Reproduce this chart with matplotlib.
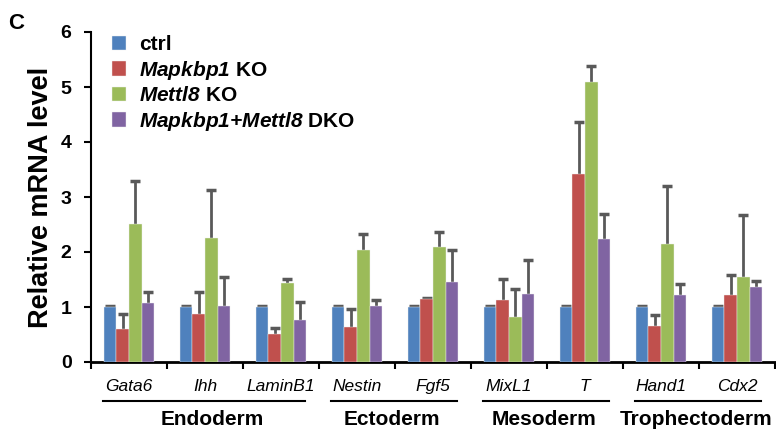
import numpy as np
import matplotlib
matplotlib.use('Agg')
import matplotlib.pyplot as plt

plt.rcParams['font.family'] = ['Liberation Sans', 'DejaVu Sans']
plt.rcParams['mathtext.fontset'] = 'custom'
plt.rcParams['mathtext.it'] = 'Liberation Sans:bold:italic'
plt.rcParams['mathtext.rm'] = 'Liberation Sans:bold:italic'
plt.rcParams['mathtext.bf'] = 'Liberation Sans:bold:italic'

# Daten
genes = ['Gata6', 'Ihh', 'LaminB1', 'Nestin', 'Fgf5', 'MixL1', 'T', 'Hand1', 'Cdx2']
ctrl = [1, 1, 1, 1, 1, 1, 1, 1, 1]
ctrl_err = [0.01, 0.01, 0.01, 0.01, 0.01, 0.01, 0.01, 0.01, 0.01]
mapkbp1_ko = [0.60, 0.87, 0.51, 0.63, 1.15, 1.12, 3.41, 0.65, 1.21]
mapkbp1_err = [0.27, 0.41, 0.11, 0.34, 0.02, 0.39, 0.95, 0.21, 0.37]
mettl8_ko = [2.51, 2.25, 1.44, 2.04, 2.10, 0.82, 5.10, 2.15, 1.55]
mettl8_err = [0.78, 0.88, 0.07, 0.29, 0.26, 0.51, 0.29, 1.05, 1.13]
dko = [1.08, 1.01, 0.76, 1.01, 1.45, 1.24, 2.23, 1.21, 1.36]
dko_err = [0.19, 0.54, 0.33, 0.11, 0.59, 0.61, 0.46, 0.21, 0.11]

series_labels = ['ctrl', r'$\mathrm{Mapkbp1}$ KO', r'$\mathrm{Mettl8}$ KO',
                 r'$\mathrm{Mapkbp1{+}Mettl8}$ DKO']
colors = ['#4F81BD', '#C0504D', '#9BBB59', '#8064A2']

# (Name, erste Kategorie, letzte Kategorie, Versatz des Textes)
groups = [('Endoderm', 0, 2, 0.1), ('Ectoderm', 3, 4, -0.04),
          ('Mesoderm', 5, 6, -0.04), ('Trophectoderm', 7, 8, -0.04)]

fig = plt.figure(figsize=(7.76, 4.30), dpi=100)
ax = fig.add_axes([91 / 776, 68 / 430, 684 / 776, 330 / 430])

x = np.arange(len(genes))
w = 0.167
values = [ctrl, mapkbp1_ko, mettl8_ko, dko]
errors = [ctrl_err, mapkbp1_err, mettl8_err, dko_err]
for i, (vals, errs) in enumerate(zip(values, errors)):
    pos = x + (i - 1.5) * w
    ax.bar(pos, vals, w, color=colors[i], edgecolor='#f0f0f0', linewidth=0.3,
           label=series_labels[i], zorder=3)
    # Fehlerbalken hinter den Balken, so dass nur der obere Teil sichtbar ist
    ax.errorbar(pos, vals, yerr=errs, fmt='none',
                ecolor='#595959', elinewidth=2, capsize=3.7, capthick=2.5, zorder=2)

ax.set_xlim(-0.5, len(genes) - 0.5)
ax.set_ylim(0, 6)
ax.set_yticks(range(7))
ax.set_yticklabels([str(v) for v in range(7)], fontweight='bold', fontsize=14)
ax.set_ylabel('Relative mRNA level', fontweight='bold', fontsize=19.5, labelpad=5)
ax.tick_params(axis='y', length=5, width=1.5, pad=9)

ax.set_xticks(np.arange(len(genes) + 1) - 0.5)
ax.set_xticklabels([])
ax.tick_params(axis='x', length=5, width=1.5)
ax.spines['top'].set_visible(False)
ax.spines['right'].set_visible(False)
ax.spines['left'].set_linewidth(1.5)
ax.spines['bottom'].set_linewidth(2)

# Gen-Namen
for xi, g in zip(x, genes):
    ax.text(xi, -0.44, g, ha='center', va='center', style='italic', fontsize=12.5,
            clip_on=False)

# Keimblatt-Gruppen
for name, a, b, off in groups:
    ax.plot([a - 0.34, b + 0.32], [-0.7, -0.7], color='black', lw=1.5, clip_on=False)
    ax.text((a + b) / 2 + off, -1.04, name, ha='center', va='center', fontweight='bold',
            fontsize=15, clip_on=False)

leg = ax.legend(loc='upper left', bbox_to_anchor=(0.003, 1.047), frameon=False,
                prop={'weight': 'bold', 'size': 15}, handlelength=0.7, handleheight=0.7,
                handletextpad=0.6, labelspacing=0.22)

fig.text(0.01, 0.946, 'C', fontweight='bold', fontsize=16, va='center')

fig.savefig('out.png', dpi=100)
